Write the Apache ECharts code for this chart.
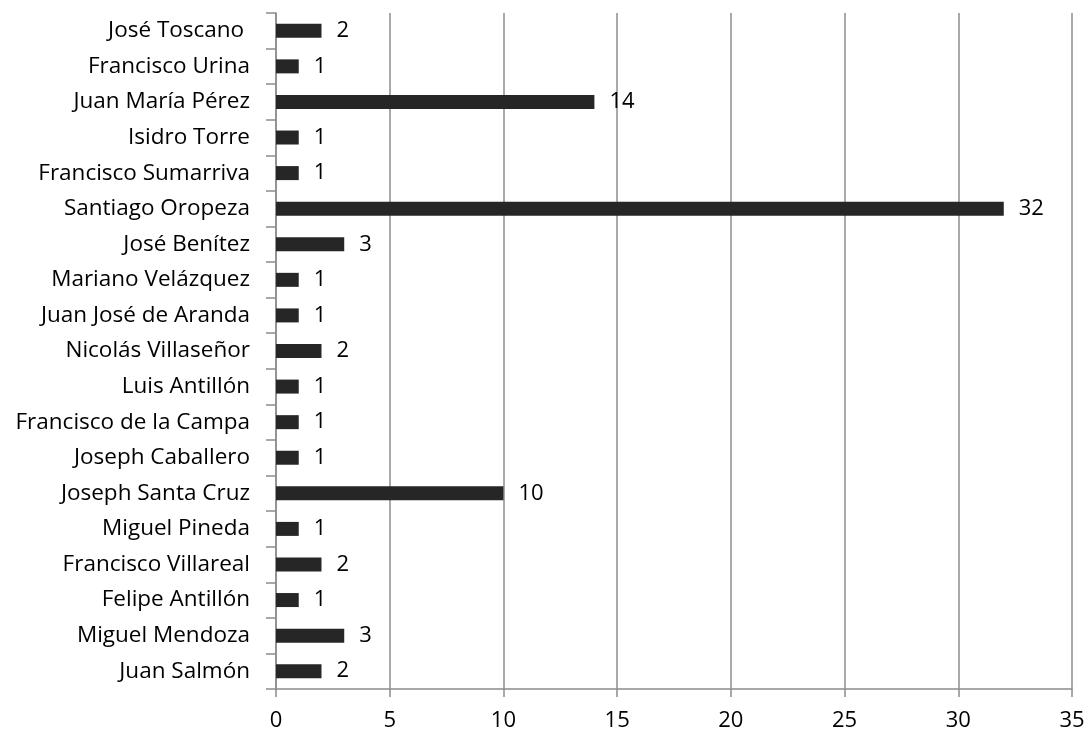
<!DOCTYPE html>
<html>
<head>
<meta charset="utf-8">
<script src="https://cdn.jsdelivr.net/npm/echarts@6/dist/echarts.min.js"></script>
<style>
  html, body { margin: 0; padding: 0; background: #fff; }
  #chart { width: 1088px; height: 733px; }
</style>
</head>
<body>
<div id="chart"></div>
<script>
// Names listed bottom to top (category axis runs upward)
const names = [
  'Juan Salmón', 'Miguel Mendoza', 'Felipe Antillón', 'Francisco Villareal',
  'Miguel Pineda', 'Joseph Santa Cruz', 'Joseph Caballero', 'Francisco de la Campa',
  'Luis Antillón', 'Nicolás Villaseñor', 'Juan José de Aranda', 'Mariano Velázquez',
  'José Benítez', 'Santiago Oropeza', 'Francisco Sumarriva', 'Isidro Torre',
  'Juan María Pérez', 'Francisco Urina', 'José Toscano '
];
const counts = [2, 3, 1, 2, 1, 10, 1, 1, 1, 2, 1, 1, 3, 32, 1, 1, 14, 1, 2];
const xTicks = { min: 0, max: 35, interval: 5 };

const font = '"Open Sans", "Liberation Sans", sans-serif';
const chart = echarts.init(document.getElementById('chart'));
chart.setOption({
  animation: false,
  grid: { left: 276, right: 16, top: 13, bottom: 44, containLabel: false },
  xAxis: {
    type: 'value',
    min: xTicks.min, max: xTicks.max, interval: xTicks.interval,
    axisLine: { show: true, lineStyle: { color: '#8c8c8c', width: 1.5 } },
    axisTick: { show: true, length: 8, lineStyle: { color: '#8c8c8c', width: 1.5 } },
    splitLine: { show: true, lineStyle: { color: '#8c8c8c', width: 1.5 } },
    axisLabel: { color: '#000', fontSize: 22, fontFamily: font, margin: 21 }
  },
  yAxis: {
    type: 'category',
    data: names,
    axisLine: { show: true, lineStyle: { color: '#8c8c8c', width: 1.5 } },
    axisTick: { show: true, length: 10, lineStyle: { color: '#8c8c8c', width: 1.5 } },
    axisLabel: { color: '#000', fontSize: 22.5, fontFamily: font, margin: 26 }
  },
  series: [{
    type: 'bar',
    data: counts,
    barWidth: 14,
    itemStyle: { color: '#262626' },
    label: {
      show: true, position: 'right', distance: 15,
      color: '#000', fontSize: 22, fontFamily: font
    }
  }]
});
</script>
</body>
</html>
